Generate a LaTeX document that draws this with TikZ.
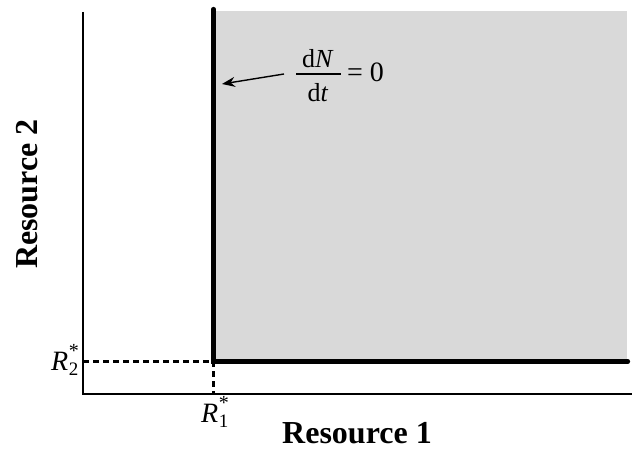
\documentclass[tikz,border=0pt]{standalone}
\usepackage{fontspec}
\setmainfont{Liberation Serif}
\usetikzlibrary{arrows.meta}
\definecolor{shadegray}{HTML}{D9D9D9}
\newcommand{\rstarlab}[1]{\textit{R}\kern0.5pt\rlap{\raisebox{-5pt}{\fontsize{19}{19}\selectfont #1}}\raisebox{13pt}{\fontsize{20}{20}\selectfont *}}
\tikzset{
  axisline/.style={line width=2pt},
  isocline/.style={line width=4.2pt, line cap=round},
  dashguide/.style={line width=2.2pt, dash pattern=on 6pt off 4pt},
  pointer/.style={line width=1.4pt, -{Stealth[length=13pt,width=10pt]}},
  axislabel/.style={font=\fontsize{32}{32}\selectfont\bfseries, inner sep=0pt},
  mlabel/.style={font=\fontsize{28}{28}\selectfont, inner sep=0pt},
  fraclabel/.style={font=\fontsize{26}{26}\selectfont, inner sep=0pt}
}
\begin{document}
\begin{tikzpicture}[x=1pt,y=1pt]
\useasboundingbox (0,0) rectangle (632,448);
% coordinates
\coordinate (O) at (83,54);
\coordinate (Ytop) at (83,436);
\coordinate (Xend) at (632,54);
\coordinate (C) at (213.5,86.5);
\coordinate (Ctop) at (213.5,439);
\coordinate (Cright) at (628,86.5);
\coordinate (Y2) at (83,86.5);
\coordinate (X1) at (213.5,54);
% shaded region
\fill[shadegray] (C) rectangle (627,437);
% axes
\draw[axisline] (Ytop) -- (O) -- (Xend);
% dashed guides
\draw[dashguide] (Y2) -- (C) -- (X1);
% isoclines
\draw[isocline] (Ctop) -- (C) -- (Cright);
% labels
\node[mlabel, anchor=base east] (r2) at (79,78) {\rstarlab{2}};
\node[mlabel, anchor=base] (r1) at (215,25.5) {\rstarlab{1}};
\node[axislabel, anchor=base] (res1) at (357,4.5) {Resource 1};
\node[axislabel, rotate=90, anchor=base] (res2) at (37,254) {Resource 2};
% fraction dN/dt = 0
\node[fraclabel, anchor=base] (num) at (318,380) {d\textit{N}};
\node[fraclabel, anchor=base] (den) at (318,346) {d\textit{t}};
\coordinate (barL) at (296,374);
\coordinate (barR) at (341,374);
\draw[line width=1.5pt] (barL) -- (barR);
\node[font=\fontsize{28}{28}\selectfont, inner sep=0pt, anchor=base west] (eqz) at (347,366) {= 0};
\coordinate (tail) at (284,374);
\coordinate (tip) at (222,364);
\draw[pointer] (tail) -- (tip);
\end{tikzpicture}
\end{document}
